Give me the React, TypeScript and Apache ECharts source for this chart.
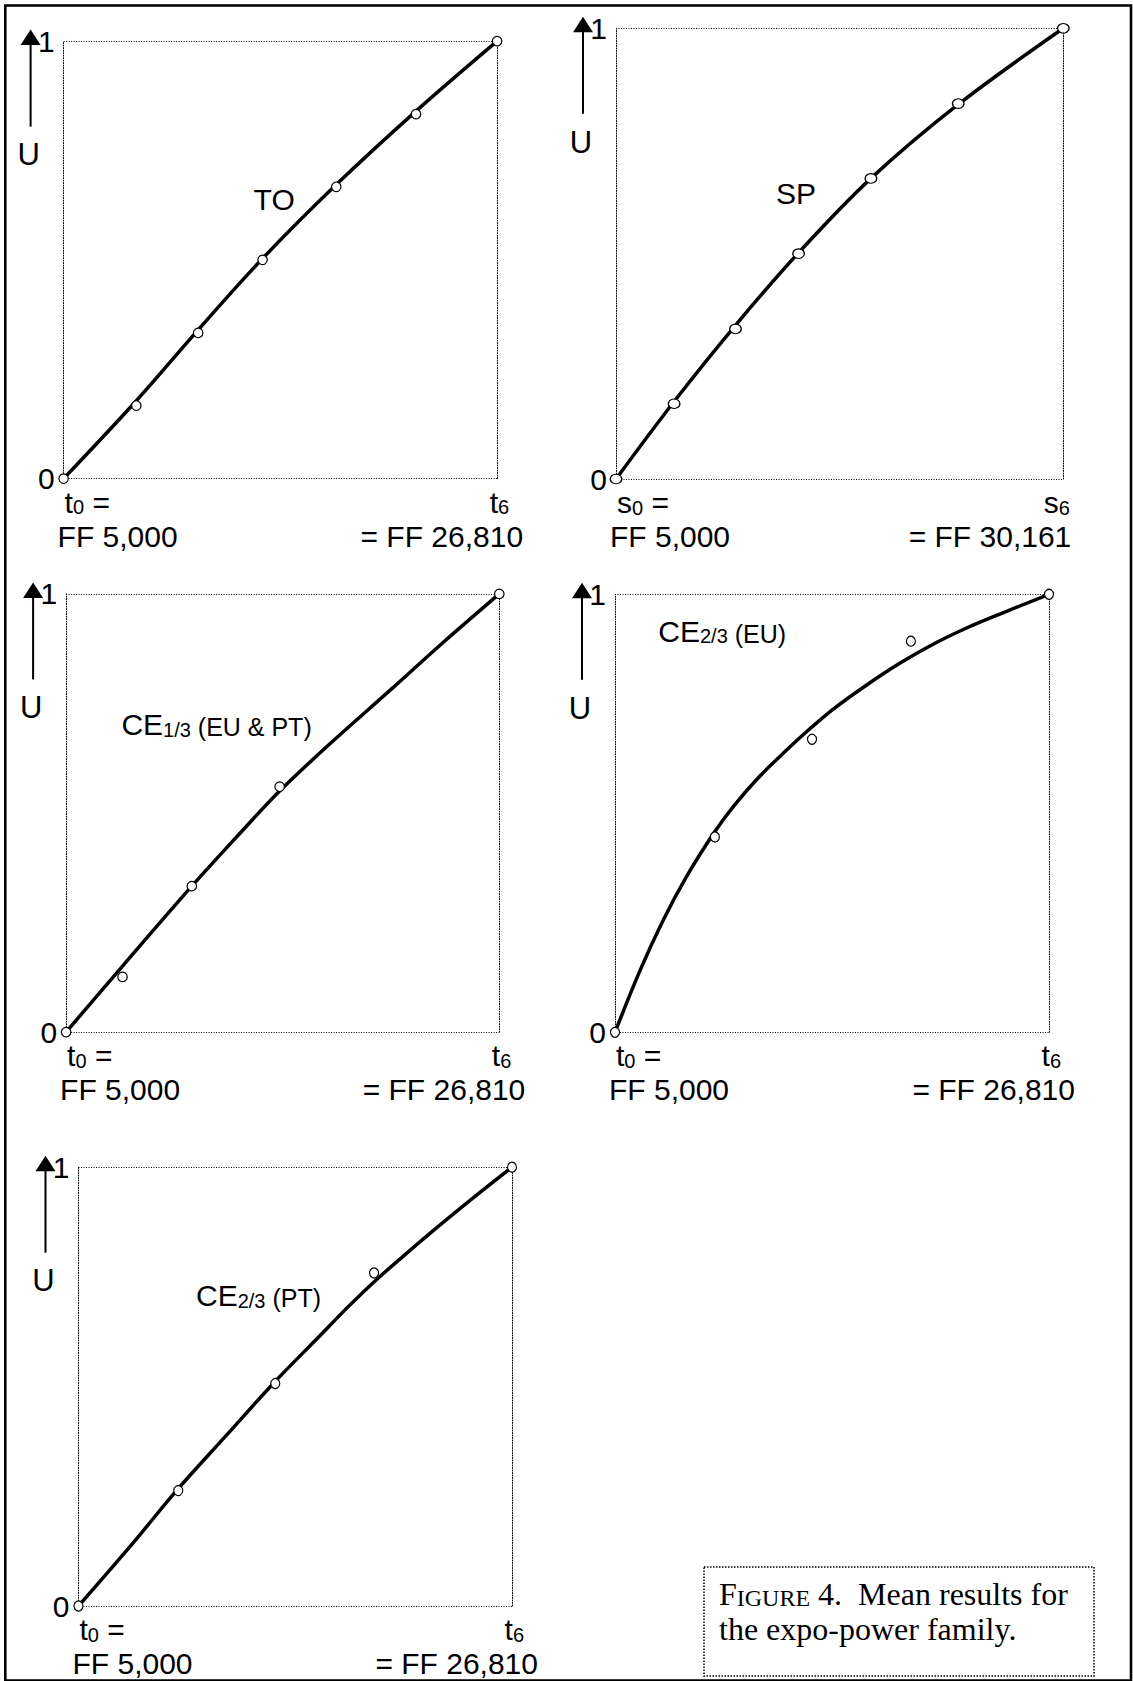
import React, { useEffect, useRef } from "react";
import * as echarts from "echarts";

// ---------------- data ----------------
const X_MIN = 5000; // t0 = s0 = FF 5,000
const T6 = 26810; // t6 = FF 26,810
const S6 = 30161; // s6 = FF 30,161

// TO (trade-off) panel
const toPointsX = [5000, 8660, 11770, 15010, 18720, 22730, 26810];
const toPointsU = [0, 0.167, 0.333, 0.5, 0.667, 0.833, 1];
const toCurveX = [5000, 8660, 11770, 15010, 18720, 22730, 26810];
const toCurveU = [0, 0.178, 0.34, 0.503, 0.672, 0.84, 1];

// SP panel
const spPointsX = [5000, 8270, 11720, 15270, 19340, 24250, 30161];
const spPointsU = [0, 0.167, 0.333, 0.5, 0.667, 0.833, 1];
const spCurveX = [5000, 8270, 11720, 15270, 19340, 24250, 30161];
const spCurveU = [0, 0.172, 0.341, 0.502, 0.667, 0.831, 1];

// CE 1/3 (EU & PT) panel
const ce13PointsX = [5000, 7840, 11330, 15750, 26810];
const ce13PointsU = [0, 0.126, 0.333, 0.56, 1];
const ce13CurveX = [5000, 7810, 11330, 13720, 15750, 18090, 21360, 24080, 26810];
const ce13CurveU = [0, 0.149, 0.333, 0.452, 0.55, 0.65, 0.782, 0.893, 1];

// CE 2/3 panels (same certainty equivalents, two models)
const ce23PointsX = [5000, 10020, 14900, 19870, 26810];
const ce23EuPointsU = [0, 0.446, 0.669, 0.893, 1];
const ce23PtPointsU = [0, 0.263, 0.507, 0.759, 1];

const ce23EuCurveX = [5000, 6265, 7421, 8599, 9951, 10954, 12285, 13637, 14793, 15970, 17650, 19329, 20987, 22666, 24345, 26810];
const ce23EuCurveU = [0, 0.142, 0.256, 0.356, 0.454, 0.516, 0.585, 0.645, 0.693, 0.738, 0.793, 0.843, 0.886, 0.923, 0.955, 1];

const ce23PtCurveX = [5000, 7770, 9951, 12459, 14858, 17170, 18522, 19853, 21358, 22862, 24716, 26810];
const ce23PtCurveU = [0, 0.145, 0.264, 0.39, 0.51, 0.617, 0.68, 0.738, 0.798, 0.856, 0.925, 1];

const yTickLabels = ["0", "1"];
const startLabel = "FF\u00a05,000";
const endLabelT = "=\u00a0FF\u00a026,810";
const endLabelS = "=\u00a0FF\u00a030,161";
const captionLine1 = ["F", "IGURE", " 4.\u00a0\u00a0Mean results for"];
const captionLine2 = "the expo-power family.";

// ---------------- layout / style ----------------
const W = 1133;
const H = 1681;
const SANS = "'Liberation Sans', Arial, Helvetica, sans-serif";
const SERIF = "'Liberation Serif', 'Times New Roman', Times, serif";
const C_SANS = 0.3465;
const C_SERIF = 0.3375;

type Seg = { t: string; f: number; d?: number; fam?: string };

function richLabel(x: number, baseline: number, segs: Seg[], align: string, c = C_SANS): any {
  const Hm = segs[0].f;
  const rich: any = {};
  let text = "";
  segs.forEach((s, i) => {
    const name = "k" + i;
    const L = Hm - 2 * c * (Hm - s.f) - 2 * (s.d || 0);
    rich[name] = {
      fontSize: s.f,
      lineHeight: L,
      verticalAlign: "bottom",
      fontFamily: s.fam || SANS,
      fill: "#000",
    };
    text += "{" + name + "|" + s.t + "}";
  });
  return {
    type: "text",
    x,
    y: baseline - Hm * (0.5 + c),
    silent: true,
    style: {
      text,
      rich,
      fill: "#000",
      align,
      textAlign: align,
      verticalAlign: "top",
      textVerticalAlign: "top",
    },
  };
}

type Panel = {
  left: number;
  top: number;
  width: number;
  height: number;
  xMax: number;
  sym: string;
  endLabel: string;
  curveX: number[];
  curveU: number[];
  ptX: number[];
  ptU: number[];
  symbolSize: any;
  title: Seg[];
  titleX: number;
  titleBase: number;
  r1: number;
  r2: number;
};

const panels: Panel[] = [
  {
    left: 63.6, top: 41.1, width: 433.5, height: 437.5, xMax: T6, sym: "t", endLabel: endLabelT,
    curveX: toCurveX, curveU: toCurveU, ptX: toPointsX, ptU: toPointsU, symbolSize: 9.5,
    title: [{ t: "TO", f: 30 }], titleX: 253.6, titleBase: 210, r1: 12, r2: 26,
  },
  {
    left: 616, top: 28.3, width: 447.3, height: 450.7, xMax: S6, sym: "s", endLabel: endLabelS,
    curveX: spCurveX, curveU: spCurveU, ptX: spPointsX, ptU: spPointsU, symbolSize: [11.5, 9.5],
    title: [{ t: "SP", f: 30 }], titleX: 776, titleBase: 204, r1: 6.5, r2: 8,
  },
  {
    left: 66.1, top: 593.9, width: 433.2, height: 438.2, xMax: T6, sym: "t", endLabel: endLabelT,
    curveX: ce13CurveX, curveU: ce13CurveU, ptX: ce13PointsX, ptU: ce13PointsU, symbolSize: 9.5,
    title: [{ t: "CE", f: 30 }, { t: "1/3", f: 20, d: 4 }, { t: "\u00a0(EU & PT)", f: 25 }],
    titleX: 121.4, titleBase: 735, r1: 12, r2: 26,
  },
  {
    left: 615, top: 594.3, width: 434, height: 438, xMax: T6, sym: "t", endLabel: endLabelT,
    curveX: ce23EuCurveX, curveU: ce23EuCurveU, ptX: ce23PointsX, ptU: ce23EuPointsU, symbolSize: [9, 10],
    title: [{ t: "CE", f: 30 }, { t: "2/3", f: 20, d: 4 }, { t: "\u00a0(EU)", f: 25 }],
    titleX: 658.3, titleBase: 641.7, r1: 12, r2: 26,
  },
  {
    left: 78.5, top: 1167.2, width: 433.5, height: 438.8, xMax: T6, sym: "t", endLabel: endLabelT,
    curveX: ce23PtCurveX, curveU: ce23PtCurveU, ptX: ce23PointsX, ptU: ce23PtPointsU, symbolSize: [9, 10],
    title: [{ t: "CE", f: 30 }, { t: "2/3", f: 20, d: 4 }, { t: "\u00a0(PT)", f: 25 }],
    titleX: 196, titleBase: 1306, r1: 12, r2: 26,
  },
];

const DOT: any = [1, 1.5];

function buildOption(): any {
  const grid: any[] = [];
  const xAxis: any[] = [];
  const yAxis: any[] = [];
  const series: any[] = [];
  const elements: any[] = [];

  // outer frame
  elements.push({
    type: "rect",
    silent: true,
    shape: { x: 5.3, y: 5.5, width: 1125.7, height: 1675 },
    style: { fill: "none", stroke: "#000", lineWidth: 2.6 },
  });

  panels.forEach((p, i) => {
    const L = p.left;
    const T = p.top;
    const R = p.left + p.width;
    const B = p.top + p.height;
    grid.push({ left: L, top: T, width: p.width, height: p.height, containLabel: false, show: false });
    xAxis.push({ gridIndex: i, type: "value", min: X_MIN, max: p.xMax, show: false });
    yAxis.push({
      gridIndex: i,
      type: "value",
      min: 0,
      max: 1,
      interval: 1,
      position: "left",
      axisLine: { show: true, onZero: false, lineStyle: { color: "#000", width: 1, type: DOT } },
      axisTick: { show: false },
      axisLabel: {
        show: true,
        color: "#000",
        margin: 9,
        formatter: (v: number) => "{n|" + yTickLabels[v >= 0.5 ? 1 : 0] + "}",
        rich: { n: { fontSize: 30, fontFamily: SANS, color: "#000", lineHeight: 30 } },
      },
      splitLine: { show: true, lineStyle: { color: "#000", width: 1, type: DOT } },
    });
    yAxis.push({
      gridIndex: i,
      type: "value",
      min: 0,
      max: 1,
      interval: 1,
      position: "right",
      axisLine: { show: true, onZero: false, lineStyle: { color: "#000", width: 1, type: DOT } },
      axisTick: { show: false },
      axisLabel: { show: false },
      splitLine: { show: false },
    });
    series.push({
      type: "line",
      xAxisIndex: i,
      yAxisIndex: 2 * i,
      data: p.curveX.map((x, k) => [x, p.curveU[k]]),
      smooth: 0.35,
      symbol: "none",
      showSymbol: false,
      clip: false,
      silent: true,
      lineStyle: { color: "#000", width: 3.5 },
      z: 2,
    });
    series.push({
      type: "scatter",
      xAxisIndex: i,
      yAxisIndex: 2 * i,
      data: p.ptX.map((x, k) => [x, p.ptU[k]]),
      symbol: "circle",
      symbolSize: p.symbolSize,
      clip: false,
      silent: true,
      itemStyle: { color: "#fff", borderColor: "#000", borderWidth: 1.2, opacity: 1 },
      z: 3,
    });

    // vertical arrow + U
    const ax = L - 33;
    elements.push({
      type: "line",
      silent: true,
      shape: { x1: ax, y1: T + 2, x2: ax, y2: T + 85.5 },
      style: { stroke: "#000", lineWidth: 2 },
    });
    elements.push({
      type: "polygon",
      silent: true,
      shape: { points: [[ax, T - 11.5], [ax - 10, T + 4], [ax + 10, T + 4]] },
      style: { fill: "#000" },
    });
    elements.push(richLabel(L - 35, T + 124.5, [{ t: "U", f: 31 }], "center"));

    // x-axis end labels
    elements.push(
      richLabel(L + 1, B + 34, [{ t: p.sym, f: 30 }, { t: "0", f: 20, d: 3 }, { t: "\u00a0=", f: 30 }], "left")
    );
    elements.push(richLabel(L - 6, B + 68, [{ t: startLabel, f: 30 }], "left"));
    elements.push(richLabel(R + p.r1, B + 34, [{ t: p.sym, f: 30 }, { t: "6", f: 20, d: 3 }], "right"));
    elements.push(richLabel(R + p.r2, B + 68, [{ t: p.endLabel, f: 30 }], "right"));

    // panel title
    elements.push(richLabel(p.titleX, p.titleBase, p.title, "left"));
  });

  // caption box
  elements.push({
    type: "rect",
    silent: true,
    shape: { x: 704, y: 1567, width: 390, height: 109 },
    style: { fill: "#fff", stroke: "#000", lineWidth: 1.5, lineDash: [1.5, 1.5] },
  });
  const capMain = 32;
  const capLH = 35;
  const capBase = capLH - capLH / 2 + C_SERIF * capMain;
  const scSize = 24;
  const scLH = 2 * (capLH + C_SERIF * scSize - capBase);
  elements.push({
    type: "text",
    x: 719,
    y: 1603.7 - capBase,
    silent: true,
    style: {
      text:
        "{b|" + captionLine1[0] + "}{sc|" + captionLine1[1] + "}{b|" + captionLine1[2] + "}\n{b|" + captionLine2 + "}",
      rich: {
        b: { fontSize: capMain, lineHeight: capLH, verticalAlign: "bottom", fontFamily: SERIF, fill: "#000" },
        sc: { fontSize: scSize, lineHeight: scLH, verticalAlign: "bottom", fontFamily: SERIF, fill: "#000" },
      },
      fill: "#000",
      align: "left",
      textAlign: "left",
      verticalAlign: "top",
      textVerticalAlign: "top",
    },
  });

  return {
    animation: false,
    backgroundColor: "#fff",
    grid,
    xAxis,
    yAxis,
    series,
    graphic: { elements },
  };
}

export default function App() {
  const ref = useRef<HTMLDivElement>(null);
  useEffect(() => {
    if (!ref.current) return;
    const chart = echarts.init(ref.current, null, { renderer: "svg", width: W, height: H });
    chart.setOption(buildOption());
    return () => {
      chart.dispose();
    };
  }, []);
  return (
    <div
      ref={ref}
      style={{ position: "absolute", left: 0, top: 0, width: W, height: H, background: "#fff" }}
    />
  );
}
